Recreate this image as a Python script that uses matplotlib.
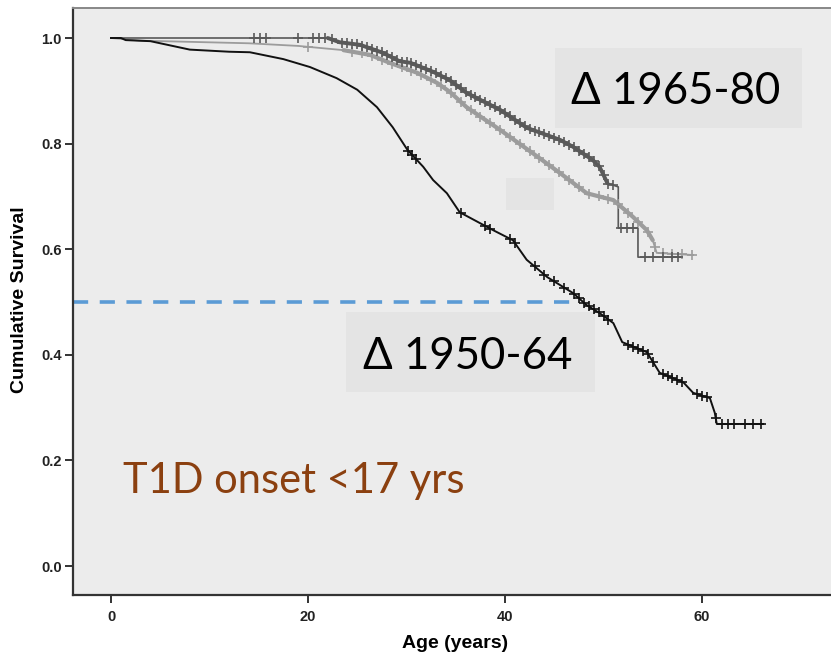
import numpy as np
import matplotlib
matplotlib.use("Agg")
import matplotlib.pyplot as plt
from matplotlib.patches import Rectangle

# ---------------- data ----------------
# Cohort 1950-64 (black)
black_age = [0, 1, 1.5, 4, 5, 8, 12, 14.1, 17.5, 20.2, 22.9, 25.0, 27.0, 28.6, 30.1, 31.7,
             32.7, 34.1, 35.4, 38.8, 40.8, 42.2, 44.3, 46.9, 48.3, 49.6, 51.0, 51.9, 54.4,
             55.7, 58.1, 59.1, 60.8, 61.3, 61.5, 66.2]
black_surv = [1.0, 1.0, 0.996, 0.994, 0.990, 0.978, 0.974, 0.973, 0.960, 0.945, 0.924, 0.902,
              0.869, 0.831, 0.788, 0.756, 0.731, 0.706, 0.670, 0.636, 0.617, 0.580, 0.547,
              0.517, 0.494, 0.479, 0.460, 0.424, 0.405, 0.366, 0.348, 0.328, 0.318, 0.290,
              0.269, 0.269]
black_censor = [30.2, 30.6, 31.0, 35.5, 38.0, 38.5, 40.5, 41.0, 43.0, 44.0, 45.0, 46.0, 47.0,
                47.5, 48.0, 48.5, 49.0, 49.5, 50.0, 50.5, 52.5, 53.0, 53.5, 54.0, 54.5, 55.0,
                56.0, 56.5, 57.0, 57.5, 58.0, 59.5, 60.0, 60.5, 61.4, 62.0, 62.6, 63.2, 64.4,
                65.2, 66.0]

# Cohort 1965-80 (dark grey)
dark_age = [0, 22.0, 23.2, 25.3, 27.6, 29.3, 30.4, 32.7, 34.4, 36.1, 39.5, 42.2, 45.6, 46.9,
            48.9, 49.6, 50.4, 51.5, 51.5, 53.5, 53.5, 57.8]
dark_surv = [1.0, 1.0, 0.992, 0.987, 0.972, 0.956, 0.953, 0.936, 0.920, 0.896, 0.864, 0.830,
             0.807, 0.794, 0.769, 0.756, 0.725, 0.718, 0.640, 0.640, 0.585, 0.585]
dark_censor = [14.5, 15.1, 15.7, 19.0, 20.5, 21.1, 21.7, 22.4, 23.5, 24.0, 24.5, 25.0, 25.5,
               26.0, 26.5, 27.0, 27.5, 28.0, 28.5, 29.0, 29.5, 30.0, 30.5, 31.0, 31.5, 32.0,
               32.5, 33.0, 33.5, 34.0, 34.5, 35.0, 35.5, 36.0, 36.5, 37.0, 37.5, 38.0, 38.5,
               39.0, 39.5, 40.0, 40.5, 41.0, 41.5, 42.0, 42.5, 43.0, 43.5, 44.0, 44.5, 45.0,
               45.5, 46.0, 46.5, 47.0, 47.5, 48.0, 48.5, 49.0, 49.5, 50.0, 50.5, 51.0, 51.8,
               52.4, 53.0, 54.2, 55.0, 56.0, 57.0, 57.6]

# Cohort (light grey)
light_age = [0, 3, 14, 19, 23.6, 26.3, 28.3, 31.1, 33.1, 34.4, 36.1, 39.5, 42.8, 45.6, 48.3,
             51.0, 53.0, 54.4, 55.0, 55.4, 59.1]
light_surv = [1.0, 0.995, 0.990, 0.985, 0.977, 0.968, 0.953, 0.934, 0.915, 0.898, 0.869,
              0.826, 0.782, 0.744, 0.706, 0.693, 0.661, 0.636, 0.617, 0.593, 0.589]
light_censor = [20.0, 24.5, 25.5, 26.5, 27.5, 28.5, 29.5, 30.5, 31.5, 32.5, 33.5, 34.5, 35.5,
                36.5, 37.5, 38.5, 39.5, 40.5, 41.5, 42.5, 43.5, 44.5, 45.5, 46.5, 47.5, 48.5,
                49.5, 50.5, 51.5, 52.5, 53.5, 54.5, 55.2, 56.0, 57.0, 58.0, 59.0]

median_surv = 0.5
median_age = 47.0

x_ticks = [0, 20, 40, 60]
y_ticks = [0.0, 0.2, 0.4, 0.6, 0.8, 1.0]
y_tick_labels = ["0.0", "0.2", "0.4", "0.6", "0.8", "1.0"]

label_1965 = "Δ 1965-80"
label_1950 = "Δ 1950-64"
label_onset = "T1D onset <17 yrs"

# ---------------- figure ----------------
W, H = 831, 655
fig = plt.figure(figsize=(W / 100, H / 100), dpi=100)
fig.patch.set_facecolor("white")

left_px, right_px, top_px, bottom_px = 73, 835, 8, 595
ax = fig.add_axes([left_px / W, 1 - bottom_px / H, (right_px - left_px) / W,
                   (bottom_px - top_px) / H])
ax.set_facecolor("#ececec")

px_per_year = 9.85
x0_px = 111
ax.set_xlim((left_px - x0_px) / px_per_year, (right_px - x0_px) / px_per_year)
px_per_unit = 528.0
y0_px = 566
ax.set_ylim((y0_px - bottom_px) / px_per_unit, (y0_px - top_px) / px_per_unit)


def to_data(px, py):
    return (px - x0_px) / px_per_year, (y0_px - py) / px_per_unit


# grey boxes (annotation backgrounds)
for (xa, ya, xb, yb) in [(555, 48, 802, 128), (346, 312, 595, 392), (506, 178, 554, 210)]:
    (dx0, dy0) = to_data(xa, yb)
    (dx1, dy1) = to_data(xb, ya)
    ax.add_patch(Rectangle((dx0, dy0), dx1 - dx0, dy1 - dy0, facecolor="#e4e4e4",
                           edgecolor="none", zorder=1))

# median dashed line
ax.plot([ax.get_xlim()[0], median_age], [median_surv, median_surv], color="#5b9bd5",
        lw=2.6, ls=(0, (4.2, 3.2)), zorder=2, solid_capstyle="butt")


def censor_y(ages, xs, ys):
    xs = np.asarray(xs); ys = np.asarray(ys)
    out = []
    for a in ages:
        idx = np.searchsorted(xs, a, side="right") - 1
        idx = min(max(idx, 0), len(xs) - 2)
        x_a, x_b = xs[idx], xs[idx + 1]
        if x_b == x_a:
            out.append(ys[idx + 1])
        else:
            out.append(ys[idx] + (ys[idx + 1] - ys[idx]) * (a - x_a) / (x_b - x_a))
    return out


# (ages, surv, censor, colour, thin lw, thick lw, thick-range end age)
series = [
    (light_age, light_surv, light_censor, "#9c9c9c", 1.3, 3.0, 55.0),
    (dark_age, dark_surv, dark_censor, "#595959", 1.2, 2.8, 51.0),
    (black_age, black_surv, black_censor, "#111111", 1.4, 1.4, 0.0),
]
for xs, ys, cens, col, lw, lw_thick, thick_end in series:
    ax.plot(xs, ys, color=col, lw=lw, zorder=3, solid_joinstyle="round")
    if thick_end > 0:
        xa = np.asarray(xs); ya = np.asarray(ys)
        m = (xa >= 22) & (xa <= thick_end)
        ax.plot(xa[m], ya[m], color=col, lw=lw_thick, zorder=3, solid_joinstyle="round",
                solid_capstyle="round")
    ax.plot(cens, censor_y(cens, xs, ys), ls="none", marker="+", ms=7, mew=1.2,
            color=col, zorder=4)

# texts
tx, ty = to_data(676, 104)
ax.text(tx, ty, label_1965, fontsize=31.5, family=["Lato", "DejaVu Sans"], ha="center",
        va="baseline", color="black", zorder=5)
tx, ty = to_data(468, 369)
ax.text(tx, ty, label_1950, fontsize=31.5, family=["Lato", "DejaVu Sans"], ha="center",
        va="baseline", color="black", zorder=5)
tx, ty = to_data(123, 493)
ax.text(tx, ty, label_onset, fontsize=30, family=["Lato", "DejaVu Sans"], ha="left",
        va="baseline", color="#8b4010", zorder=5)

# axes styling
for s in ["left", "bottom"]:
    ax.spines[s].set_color("#333333")
    ax.spines[s].set_linewidth(1.6)
ax.spines["top"].set_color("#888888")
ax.spines["top"].set_linewidth(1.4)
ax.spines["right"].set_visible(False)

ax.set_xticks(x_ticks)
ax.set_xticklabels([str(v) for v in x_ticks])
ax.set_yticks(y_ticks)
ax.set_yticklabels(y_tick_labels)
ax.tick_params(direction="out", length=6, width=1.4, color="#333333", labelsize=10.5,
               pad=2)
for lab in ax.get_xticklabels() + ax.get_yticklabels():
    lab.set_fontfamily("Liberation Sans")
    lab.set_fontweight("bold")
    lab.set_color("#222222")
ax.tick_params(axis="x", pad=5)

fig.text(20 / W, 1 - 300 / H, "Cumulative Survival", rotation=90, ha="center", va="center",
         fontsize=14, fontweight="bold", family="Liberation Sans")
fig.text(455 / W, 1 - 643 / H, "Age (years)", ha="center", va="center", fontsize=14,
         fontweight="bold", family="Liberation Sans")

fig.savefig("out.png", dpi=100, facecolor="white")
